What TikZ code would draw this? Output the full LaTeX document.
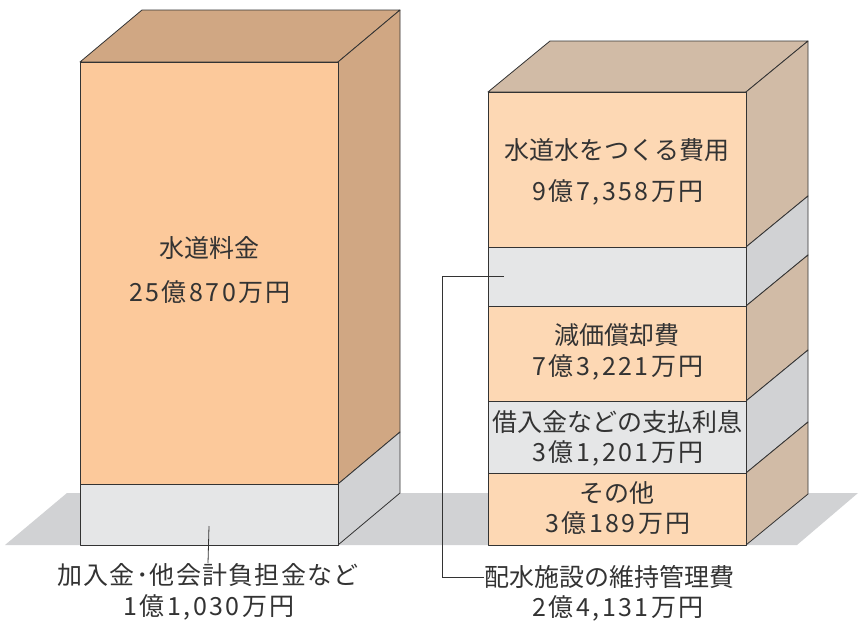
\documentclass[tikz,border=0pt]{standalone}
\usepackage{fontspec}
\setmainfont{Noto Sans CJK JP}
\newfontfamily\numfont[LetterSpace=10]{Noto Sans CJK JP}
\newfontfamily\widefont[LetterSpace=5]{Noto Sans CJK JP}
\definecolor{frontL}{HTML}{FCC99B}
\definecolor{sideL}{HTML}{D0A783}
\definecolor{frontR}{HTML}{FDD8B4}
\definecolor{sideR}{HTML}{D1BBA6}
\definecolor{greyF}{HTML}{E5E6E7}
\definecolor{greyS}{HTML}{D1D2D4}
\definecolor{floorC}{HTML}{D1D2D4}
\definecolor{ink}{HTML}{333333}
\definecolor{edge}{HTML}{333333}
\tikzset{
  face/.style={draw=edge,line width=0.8pt,line join=round},
  lbl/.style={text=ink,font=\fontsize{25}{25}\selectfont,align=center,inner sep=0pt},
  num/.style={text=ink,font=\numfont\fontsize{25}{25}\selectfont,align=center,inner sep=0pt},
  wide/.style={text=ink,font=\widefont\fontsize{25}{25}\selectfont,align=center,inner sep=0pt},
  leader/.style={draw=ink,line width=0.8pt}
}
\begin{document}
\begin{tikzpicture}[x=1pt,y=-1pt]
\useasboundingbox (0,0) rectangle (859,621);
% floor
\fill[floorC] (5,545) -- (67,493) -- (858,493) -- (797,545) -- cycle;
% ---------- left box ----------
\filldraw[face,fill=sideL] (80,62) -- (142,10) -- (400,10) -- (338,62) -- cycle;
\filldraw[face,fill=sideL] (338,62) -- (400,10) -- (400,432) -- (338,484) -- cycle;
\filldraw[face,fill=greyS] (338,484) -- (400,432) -- (400,493) -- (338,545) -- cycle;
\filldraw[face,fill=frontL] (80,62) rectangle (338,484);
\filldraw[face,fill=greyF] (80,484) rectangle (338,545);
% ---------- right box ----------
\filldraw[face,fill=sideR] (488,92) -- (550,41) -- (808,41) -- (746,92) -- cycle;
\filldraw[face,fill=sideR] (746,92) -- (808,41) -- (808,196) -- (746,247) -- cycle;
\filldraw[face,fill=greyS] (746,247) -- (808,196) -- (808,255) -- (746,306) -- cycle;
\filldraw[face,fill=sideR] (746,306) -- (808,255) -- (808,350) -- (746,401) -- cycle;
\filldraw[face,fill=greyS] (746,401) -- (808,350) -- (808,422) -- (746,473) -- cycle;
\filldraw[face,fill=sideR] (746,473) -- (808,422) -- (808,494) -- (746,545) -- cycle;
\filldraw[face,fill=frontR] (488,92) rectangle (746,247);
\filldraw[face,fill=greyF] (488,247) rectangle (746,306);
\filldraw[face,fill=frontR] (488,306) rectangle (746,401);
\filldraw[face,fill=greyF] (488,401) rectangle (746,473);
\filldraw[face,fill=frontR] (488,473) rectangle (746,545);
% ---------- labels ----------
\node[lbl] (wl1) at (209,248) {水道料金};
\node[num] (wl2) at (210,292) {25億870万円};
\node[lbl] (r1a) at (617,150) {水道水をつくる費用};
\node[num] (r1b) at (618,192) {9億7,358万円};
\node[lbl] (r3a) at (617,335) {減価償却費};
\node[num] (r3b) at (618,367) {7億3,221万円};
\node[lbl] (r4a) at (617,422) {借入金などの支払利息};
\node[num] (r4b) at (618,453) {3億1,201万円};
\node[lbl] (r5a) at (617,493) {その他};
\node[num] (r5b) at (618,523) {3億189万円};
\node[wide] (bl1) at (208,575) {加入金･他会計負担金など};
\node[num] (bl2) at (209,607) {1億1,030万円};
\node[lbl,anchor=west] (br1) at (484,577) {配水施設の維持管理費};
\node[num] (br2) at (618,608) {2億4,131万円};
% leaders
\coordinate (la) at (209,526);
\draw[leader] (la) -- (bl1.north);
\coordinate (ra) at (504,276);
\draw[leader] (ra) -- (442,276) |- (br1.west);
\end{tikzpicture}
\end{document}
